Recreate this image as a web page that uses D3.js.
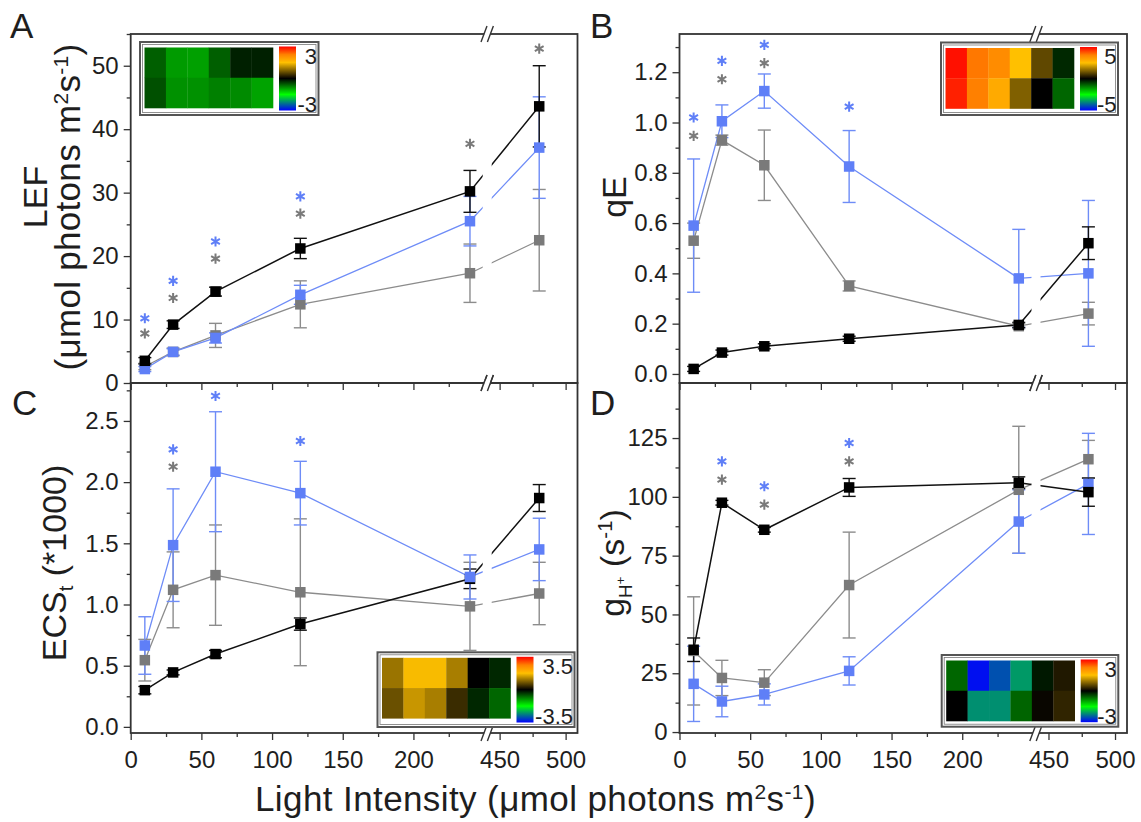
<!DOCTYPE html>
<html>
<head>
<meta charset="utf-8">
<script src="https://cdn.jsdelivr.net/npm/d3@7"></script>
<style>
  body { margin: 0; background: #fff; }
  svg { display: block; }
</style>
</head>
<body>
<svg id="chart" width="1141" height="822"></svg>
<script>
// ---------- data ----------
const lightLevels = [10, 30, 60, 120, 240, 480];
const xMajorTicks = [0, 50, 100, 150, 200, 450, 500];
const xMinorTicks = [25, 75, 125, 175, 225, 475];

// A: linear electron flow
const lefBlack = [3.5, 9.2, 14.4, 21.2, 30.2, 43.6];
const lefBlackErr = [0.5, 0.6, 0.7, 1.6, 3.3, 6.4];
const lefGray = [2.6, 4.9, 7.5, 12.4, 17.3, 22.5];
const lefGrayErr = [0.5, 0.6, 1.9, 3.7, 4.6, 8.0];
const lefBlue = [2.2, 4.9, 7.1, 13.9, 25.5, 37.1];
const lefBlueErr = [0.4, 0.5, 0.8, 1.5, 3.9, 8.0];
const lefStarX = [10, 10, 30, 30, 60, 60, 120, 120, 240, 480];
const lefStarY = [10.2, 7.8, 16.1, 13.4, 22.3, 19.6, 29.4, 26.7, 37.7, 52.7];
const lefStarColor = ["blue", "gray", "blue", "gray", "blue", "gray", "blue", "gray", "gray", "gray"];
const lefHeatTop = [-0.56, -0.91, -0.94, -0.56, -0.19, -0.19];
const lefHeatBottom = [-0.47, -0.85, -0.85, -0.75, -0.82, -0.96];
const lefHeatRange = 3;

// B: qE
const qeBlack = [0.02, 0.085, 0.11, 0.14, 0.195, 0.52];
const qeBlackErr = [0.01, 0.01, 0.01, 0.01, 0.01, 0.065];
const qeGray = [0.53, 0.93, 0.83, 0.35, 0.19, 0.24];
const qeGrayErr = [0.07, 0.02, 0.14, 0.02, 0.01, 0.045];
const qeBlue = [0.59, 1.005, 1.125, 0.825, 0.38, 0.40];
const qeBlueErr = [0.265, 0.065, 0.068, 0.143, 0.195, 0.29];
const qeStarX = [10, 10, 30, 30, 60, 60, 120];
const qeStarY = [1.02, 0.947, 1.245, 1.172, 1.309, 1.236, 1.063];
const qeStarColor = ["blue", "gray", "blue", "gray", "blue", "gray", "blue"];
const qeHeatTop = [4.84, 3.83, 3.52, 2.5, 0.94, -0.39];
const qeHeatBottom = [4.69, 3.75, 2.93, 1.25, 0, -1.0];
const qeHeatRange = 5;

// C: ECSt
const ecsBlack = [0.30, 0.445, 0.595, 0.84, 1.21, 1.87];
const ecsBlackErr = [0.03, 0.02, 0.03, 0.05, 0.08, 0.11];
const ecsGray = [0.545, 1.12, 1.24, 1.10, 0.985, 1.09];
const ecsGrayErr = [0.17, 0.31, 0.41, 0.60, 0.36, 0.255];
const ecsBlue = [0.665, 1.485, 2.085, 1.91, 1.225, 1.45];
const ecsBlueErr = [0.235, 0.46, 0.49, 0.26, 0.18, 0.255];
const ecsStarX = [30, 30, 60, 120];
const ecsStarY = [2.268, 2.126, 2.704, 2.336];
const ecsStarColor = ["blue", "gray", "blue", "blue"];
const ecsHeatTop = [1.06, 1.7, 1.7, 1.15, 0, -0.27];
const ecsHeatBottom = [0.73, 1.37, 1.15, 0.40, -0.27, -0.7];
const ecsHeatRange = 3.5;

// D: proton conductivity gH+
const ghBlack = [35, 97.5, 86, 104, 106, 102];
const ghBlackErr = [5, 1, 1, 3.8, 2.5, 6];
const ghGray = [34.5, 23, 21, 62.5, 103, 116];
const ghGrayErr = [23, 7.5, 5.5, 22.5, 27, 8];
const ghBlue = [20.5, 13, 16, 26, 89.5, 105.5];
const ghBlueErr = [16, 6.5, 4.5, 6, 13.5, 21.5];
const ghStarX = [30, 30, 60, 60, 120, 120];
const ghStarY = [115.1, 107.3, 104.5, 96.7, 122.9, 115.1];
const ghStarColor = ["blue", "gray", "blue", "gray", "blue", "gray"];
const ghHeatTop = [-0.6, -2.91, -2.53, -2.1, -0.14, 0.19];
const ghHeatBottom = [0, -2.16, -2.16, -0.59, 0.05, 0.28];
const ghHeatRange = 3;

// ---------- styling ----------
const FONT = "'Liberation Sans', Arial, Helvetica, sans-serif";
const TEXT = "#1e1e1e";
const AXIS = "#333";
const styles = {
  black: { marker: "#000000", line: "#111111", err: "#111111", lw: 1.5 },
  gray:  { marker: "#7a7a7a", line: "#8c8c8c", err: "#8c8c8c", lw: 1.3 },
  blue:  { marker: "#5f7ff7", line: "#6e8cf7", err: "#6e8cf7", lw: 1.3 }
};

const columns = [{ x0: 130.7, x1: 577.5 }, { x0: 679.5, x1: 1127 }];
const rows = [{ y0: 34, y1: 383 }, { y0: 383, y1: 733 }];
const xBreakDomain = [0, 249, 444, 509];

// Heat-map colour ramp shared by the insets (fraction of the bar range)
const heatColor = d3.scaleLinear()
  .domain([-1, -0.5, 0, 0.5, 0.75, 1])
  .range(["#0000ff", "#00ff00", "#000000", "#ffc000", "#ff8000", "#ff0000"])
  .clamp(true);

const svg = d3.select("#chart");
const defs = svg.append("defs");

function mkSeries(name, values, errs) {
  return Object.assign({ name, values, errs }, styles[name]);
}

const panels = [
  {
    key: "A", col: 0, row: 0, yDomain: [0, 55],
    yMajor: d3.range(0, 51, 10), yMinor: d3.range(5, 56, 10), fmt: d3.format("d"),
    series: [mkSeries("gray", lefGray, lefGrayErr), mkSeries("blue", lefBlue, lefBlueErr), mkSeries("black", lefBlack, lefBlackErr)],
    stars: { x: lefStarX, y: lefStarY, c: lefStarColor },
    heat: [lefHeatTop, lefHeatBottom], range: lefHeatRange, rangeLabel: "3",
    inset: { corner: "tl", dx: 9.3, dy: 8, w: 178.5, h: 73 }
  },
  {
    key: "B", col: 1, row: 0, yDomain: [-0.036, 1.352],
    yMajor: d3.range(0, 1.21, 0.2), yMinor: d3.range(0.1, 1.31, 0.2), fmt: d3.format(".1f"),
    series: [mkSeries("gray", qeGray, qeGrayErr), mkSeries("blue", qeBlue, qeBlueErr), mkSeries("black", qeBlack, qeBlackErr)],
    stars: { x: qeStarX, y: qeStarY, c: qeStarColor },
    heat: [qeHeatTop, qeHeatBottom], range: qeHeatRange, rangeLabel: "5",
    inset: { corner: "tr", dx: 9, dy: 8.5, w: 177, h: 72.5 }
  },
  {
    key: "C", col: 0, row: 1, yDomain: [-0.05, 2.81],
    yMajor: d3.range(0, 2.51, 0.5), yMinor: d3.range(0.25, 2.8, 0.5), fmt: d3.format(".1f"),
    series: [mkSeries("gray", ecsGray, ecsGrayErr), mkSeries("black", ecsBlack, ecsBlackErr), mkSeries("blue", ecsBlue, ecsBlueErr)],
    stars: { x: ecsStarX, y: ecsStarY, c: ecsStarColor },
    heat: [ecsHeatTop, ecsHeatBottom], range: ecsHeatRange, rangeLabel: "3.5",
    inset: { corner: "br", dx: 3, dy: 6, w: 197, h: 74.7 }
  },
  {
    key: "D", col: 1, row: 1, yDomain: [-0.4, 148.4],
    yMajor: d3.range(0, 126, 25), yMinor: d3.range(12.5, 140, 25), fmt: d3.format("d"),
    series: [mkSeries("gray", ghGray, ghGrayErr), mkSeries("blue", ghBlue, ghBlueErr), mkSeries("black", ghBlack, ghBlackErr)],
    stars: { x: ghStarX, y: ghStarY, c: ghStarColor },
    heat: [ghHeatTop, ghHeatBottom], range: ghHeatRange, rangeLabel: "3",
    inset: { corner: "br", dx: 8.7, dy: 6.3, w: 176.6, h: 71.7 }
  }
];

function styleAxis(g) {
  g.select(".domain").remove();
  g.attr("font-family", FONT).attr("font-size", 24).attr("color", AXIS);
  g.selectAll(".tick line").attr("stroke-width", 1.3);
  g.selectAll(".tick text").attr("fill", TEXT);
}

function drawPanel(p) {
  const col = columns[p.col], row = rows[p.row];
  const x = d3.scaleLinear().domain(xBreakDomain)
    .range([col.x0, col.x0 + 352, col.x0 + 361, col.x1]);
  const y = d3.scaleLinear().domain(p.yDomain).range([row.y1, row.y0]);
  const g = svg.append("g").attr("class", "panel-" + p.key);

  // connecting lines
  const line = d3.line().x((d, i) => x(lightLevels[i])).y(d => y(d));
  p.series.forEach(s => {
    g.append("path").datum(s.values)
      .attr("d", line).attr("fill", "none")
      .attr("stroke", s.line).attr("stroke-width", s.lw);
  });

  // lines are interrupted across the axis break
  g.append("rect")
    .attr("x", x(249)).attr("y", row.y0 + 2)
    .attr("width", x(444) - x(249)).attr("height", row.y1 - row.y0 - 4)
    .attr("fill", "#fff");

  // error bars
  const cap = 6.5;
  p.series.forEach(s => {
    const eg = g.append("g").attr("stroke", s.err).attr("stroke-width", 1.4);
    const rowsData = s.values.map((v, i) => ({ x: x(lightLevels[i]), lo: y(v - s.errs[i]), hi: y(v + s.errs[i]) }));
    eg.selectAll(".v").data(rowsData).join("line")
      .attr("x1", d => d.x).attr("x2", d => d.x).attr("y1", d => d.lo).attr("y2", d => d.hi);
    eg.selectAll(".ct").data(rowsData).join("line")
      .attr("x1", d => d.x - cap).attr("x2", d => d.x + cap).attr("y1", d => d.hi).attr("y2", d => d.hi);
    eg.selectAll(".cb").data(rowsData).join("line")
      .attr("x1", d => d.x - cap).attr("x2", d => d.x + cap).attr("y1", d => d.lo).attr("y2", d => d.lo);
  });

  // square markers
  const ms = 10.5;
  p.series.forEach(s => {
    g.append("g").selectAll("rect").data(s.values).join("rect")
      .attr("x", (d, i) => x(lightLevels[i]) - ms / 2)
      .attr("y", d => y(d) - ms / 2)
      .attr("width", ms).attr("height", ms)
      .attr("fill", s.marker);
  });

  // significance asterisks
  const star = d3.symbol().type(d3.symbolAsterisk).size(72);
  g.append("g").selectAll("path").data(p.stars.x.map((sx, i) => ({ x: sx, y: p.stars.y[i], c: p.stars.c[i] })))
    .join("path")
    .attr("d", star)
    .attr("transform", d => `translate(${x(d.x)},${y(d.y)})`)
    .attr("fill", "none")
    .attr("stroke", d => styles[d.c].marker)
    .attr("stroke-width", 2);

  // axes
  const yAx = g.append("g").attr("transform", `translate(${col.x0},0)`)
    .call(d3.axisLeft(y).tickValues(p.yMajor).tickSize(7).tickPadding(5).tickFormat(p.fmt));
  styleAxis(yAx);
  const yMin = g.append("g").attr("transform", `translate(${col.x0},0)`)
    .call(d3.axisLeft(y).tickValues(p.yMinor).tickSize(4).tickFormat(""));
  styleAxis(yMin);

  const xAx = g.append("g").attr("transform", `translate(0,${row.y1})`)
    .call(d3.axisBottom(x).tickValues(xMajorTicks).tickSize(7).tickPadding(11)
      .tickFormat(p.row === 1 ? d3.format("d") : ""));
  styleAxis(xAx);
  const xMin = g.append("g").attr("transform", `translate(0,${row.y1})`)
    .call(d3.axisBottom(x).tickValues(xMinorTicks).tickSize(4).tickFormat(""));
  styleAxis(xMin);

  // frame
  g.append("rect")
    .attr("x", col.x0).attr("y", row.y0)
    .attr("width", col.x1 - col.x0).attr("height", row.y1 - row.y0)
    .attr("fill", "none").attr("stroke", AXIS).attr("stroke-width", 1.8);

  // break symbols on top and bottom edges
  const bx = (x(249) + x(444)) / 2;
  [row.y0, row.y1].forEach(yy => {
    g.append("rect").attr("x", bx - 3).attr("y", yy - 2.5).attr("width", 6).attr("height", 5).attr("fill", "#fff");
    [-3.2, 3.2].forEach(off => {
      g.append("line")
        .attr("x1", bx + off - 3).attr("y1", yy + 8)
        .attr("x2", bx + off + 3).attr("y2", yy - 8)
        .attr("stroke", AXIS).attr("stroke-width", 1.4);
    });
  });

  drawInset(p, col, row);
}

function drawInset(p, col, row) {
  const ins = p.inset;
  const fx = ins.corner.endsWith("l") ? col.x0 + ins.dx : col.x1 - ins.dx - ins.w;
  const fy = ins.corner.startsWith("t") ? row.y0 + ins.dy : row.y1 - ins.dy - ins.h;
  const g = svg.append("g").attr("class", "inset-" + p.key);

  g.append("rect").attr("x", fx).attr("y", fy).attr("width", ins.w).attr("height", ins.h)
    .attr("fill", "#fff").attr("stroke", "#555").attr("stroke-width", 2);
  g.append("rect").attr("x", fx + 2.5).attr("y", fy + 2.5).attr("width", ins.w - 5).attr("height", ins.h - 5)
    .attr("fill", "none").attr("stroke", "#777").attr("stroke-width", 0.8);

  const hx = fx + 4.5, hy = fy + 5.5, hw = 128.5, hh = 60.5;
  const cx = d3.scaleBand().domain(d3.range(6)).range([hx, hx + hw]);
  const cy = d3.scaleBand().domain(d3.range(2)).range([hy, hy + hh]);
  const cells = [];
  p.heat.forEach((r, ri) => r.forEach((v, ci) => cells.push({ r: ri, c: ci, v })));
  g.selectAll(".cell").data(cells).join("rect")
    .attr("x", d => cx(d.c)).attr("y", d => cy(d.r))
    .attr("width", cx.bandwidth() + 0.3).attr("height", cy.bandwidth() + 0.3)
    .attr("fill", d => heatColor(d.v / p.range));

  // colour bar
  const gid = "bar-" + p.key;
  const grad = defs.append("linearGradient").attr("id", gid)
    .attr("x1", 0).attr("y1", 1).attr("x2", 0).attr("y2", 0);
  d3.range(-1, 1.0001, 0.05).forEach(t => {
    grad.append("stop").attr("offset", (t + 1) / 2).attr("stop-color", heatColor(t));
  });
  const bx = hx + hw + 6, by = fy + 4.5, bw = 17, bh = ins.h - 9;
  g.append("rect").attr("x", bx).attr("y", by).attr("width", bw).attr("height", bh)
    .attr("fill", `url(#${gid})`);

  const lx = fx + ins.w - 1.5;
  g.append("text").attr("x", lx).attr("y", by + 17)
    .attr("text-anchor", "end").attr("font-family", FONT).attr("font-size", 22).attr("fill", TEXT)
    .text(p.rangeLabel);
  g.append("text").attr("x", lx).attr("y", by + bh + 1.5)
    .attr("text-anchor", "end").attr("font-family", FONT).attr("font-size", 22).attr("fill", TEXT)
    .text("-" + p.rangeLabel);
}

panels.forEach(drawPanel);

// ---------- titles & panel letters ----------
const T = svg.append("g").attr("font-family", FONT).attr("fill", TEXT);

[["A", 10, 38], ["B", 590, 38], ["C", 12, 415], ["D", 590, 415]].forEach(([t, lx, ly]) => {
  T.append("text").attr("x", lx).attr("y", ly).attr("font-size", 35).text(t);
});

function unitTspans(sel) {
  sel.append("tspan").text("(\u03bcmol photons m");
  sel.append("tspan").attr("font-size", "60%").attr("dy", -12).text("2");
  sel.append("tspan").attr("dy", 12).text("s");
  sel.append("tspan").attr("font-size", "60%").attr("dy", -12).text("-1");
  sel.append("tspan").attr("dy", 12).text(")");
}

// A title
T.append("text").attr("transform", "translate(47,197) rotate(-90)")
  .attr("text-anchor", "middle").attr("font-size", 34).text("LEF");
unitTspans(T.append("text").attr("transform", "translate(80,207) rotate(-90)")
  .attr("text-anchor", "middle").attr("font-size", 35).attr("letter-spacing", 0.3));

// B title
T.append("text").attr("transform", "translate(626,197) rotate(-90)")
  .attr("text-anchor", "middle").attr("font-size", 34).text("qE");

// C title
const tc = T.append("text").attr("transform", "translate(65.5,563) rotate(-90)")
  .attr("text-anchor", "middle").attr("font-size", 34);
tc.append("tspan").text("ECS");
tc.append("tspan").attr("font-size", "60%").attr("dy", 7).text("t");
tc.append("tspan").attr("dy", -7).text(" (*1000)");

// D title
const td = T.append("text").attr("transform", "translate(624,563) rotate(-90)")
  .attr("text-anchor", "middle").attr("font-size", 34);
td.append("tspan").text("g");
td.append("tspan").attr("font-size", "55%").attr("dy", 8).text("H");
td.append("tspan").attr("font-size", "40%").attr("dy", -7).text("+");
td.append("tspan").attr("dy", -1).text(" (s");
td.append("tspan").attr("font-size", "60%").attr("dy", -12).text("-1");
td.append("tspan").attr("dy", 12).text(")");

// x title
unitTspans(T.append("text").attr("x", 255).attr("y", 811).attr("font-size", 35).attr("letter-spacing", 0.4)
  .call(s => s.append("tspan").text("Light Intensity ")));
</script>
</body>
</html>
